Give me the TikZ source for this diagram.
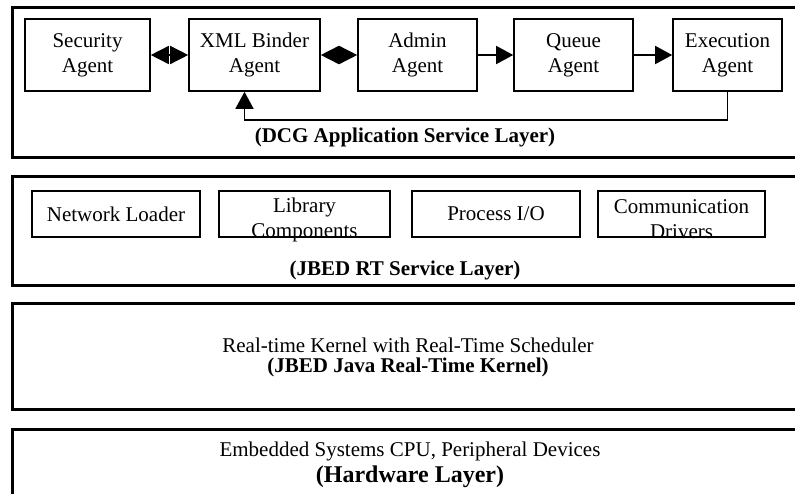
\documentclass[tikz,border=0pt]{standalone}
\usepackage{fontspec}
\setmainfont{Liberation Serif}
\usepackage{tikz}
\usetikzlibrary{positioning,%
  arrows.meta,%
  calc
}

\begin{document}
\begin{tikzpicture}[x=1pt,y=-1pt,
    layer/.style={draw,line width=3pt},
    agent/.style={draw,line width=1.6pt,minimum height=72pt,inner sep=0pt,align=center,font=\fontsize{21}{25}\selectfont},
    comp/.style={draw,line width=1.4pt,minimum height=46pt,inner sep=0pt,align=center,font=\fontsize{21}{25}\selectfont},
    txt/.style={inner sep=0pt,align=center,font=\fontsize{21}{25}\selectfont},
    title/.style={inner sep=0pt,font=\fontsize{21}{25}\selectfont\bfseries},
    flow/.style={line width=1.5pt,-{Triangle[length=17pt,width=18pt]}},
    both/.style={line width=1.5pt,{Triangle[length=18pt,width=18pt]}-{Triangle[length=18pt,width=18pt]}}]
            \useasboundingbox (0,0) rectangle (795,493);

            % layers
            \draw [layer] (12,7) rectangle (798,157);
            \draw [layer] (12,176) rectangle (798,285);
            \draw [layer] (12,303) rectangle (798,409);
            \draw [layer] (12,429) rectangle (798,520);

            % application service layer
            \node [agent, minimum width=125pt] (sec) at (87.5,55) {Security\\Agent};
            \node [agent, minimum width=131pt] (xml) at (254.5,55) {XML Binder\\Agent};
            \node [agent, minimum width=119pt] (adm) at (417.5,55) {Admin\\Agent};
            \node [agent, minimum width=119pt] (que) at (573.5,55) {Queue\\Agent};
            \node [agent, minimum width=109pt] (exe) at (727.5,55) {Execution\\Agent};

            \draw [both] (sec) -- (xml);
            \draw [both] (xml) -- (adm);
            \draw [flow] (adm) -- (que);
            \draw [flow] (que) -- (exe);

            \coordinate (back) at (244.5,120);
            \draw [flow] (exe.south) |- (back) -- (back |- xml.south);

            \node [title] (dcg) at (405,137) {(DCG Application Service Layer)};

            % RT service layer
            \node [comp, minimum width=168pt] (net) at (116,214) {Network Loader};
            \node [comp, minimum width=171pt] (lib) at (304.5,214) {};
            \node [txt] (libtxt) at ([yshift=-5.5pt]lib.center) {Library\\Components};
            \node [comp, minimum width=168pt] (pio) at (496,214) {Process I/O};
            \node [comp, minimum width=167pt] (com) at (681.5,214) {};
            \node [txt] (comtxt) at ([yshift=-5.5pt]com.center) {Communication\\Drivers};

            \node [title] (rt) at (405,270) {(JBED RT Service Layer)};

            % kernel
            \node [txt] (kern) at (408,345) {Real-time Kernel with Real-Time Scheduler};
            \node [title] (kernt) at (408,367) {(JBED Java Real-Time Kernel)};

            % hardware
            \node [txt] (hw) at (410,451) {Embedded Systems CPU, Peripheral Devices};
            \node [title, font=\fontsize{24}{28}\selectfont\bfseries] (hwt) at (410,477) {(Hardware Layer)};
        \end{tikzpicture}
\end{document}
